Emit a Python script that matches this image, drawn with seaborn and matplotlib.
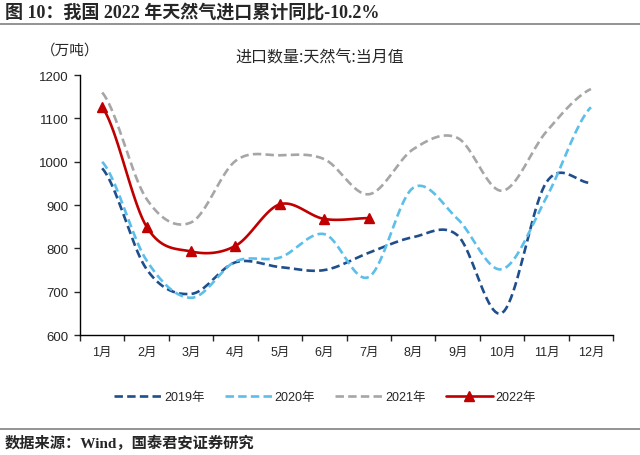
import numpy as np
import pandas as pd
import seaborn as sns
import matplotlib.pyplot as plt
from matplotlib.lines import Line2D

months = ['1月', '2月', '3月', '4月', '5月', '6月', '7月', '8月', '9月', '10月', '11月', '12月']
y2019 = [985, 752, 695, 768, 757, 750, 790, 826, 830, 651, 953, 951]
y2020 = [1000, 772, 686, 770, 779, 833, 734, 940, 868, 752, 918, 1126]
y2021 = [1160, 914, 860, 1002, 1015, 1006, 925, 1029, 1055, 933, 1070, 1168]
y2022 = [1126, 850, 793, 806, 902, 868, 870]

series = [('2019年', y2019, '#1f4e8c', (3.2, 1.6)),
          ('2020年', y2020, '#5bbfea', (3.2, 1.6)),
          ('2021年', y2021, '#a6a6a6', (3.2, 1.6)),
          ('2022年', y2022, '#c00000', '')]


def smooth(vals, n=20):
    '''Excel-style smoothed line (Catmull-Rom through the data points)'''
    p = np.asarray(vals, dtype=float)
    xs, ys = [], []
    for i in range(len(p) - 1):
        p0 = p[i - 1] if i > 0 else p[i]
        p3 = p[i + 2] if i + 2 < len(p) else p[i + 1]
        m1 = (p[i + 1] - p0) / 2
        m2 = (p3 - p[i]) / 2
        t = np.linspace(0, 1, n, endpoint=False)
        h00 = 2 * t**3 - 3 * t**2 + 1
        h10 = t**3 - 2 * t**2 + t
        h01 = -2 * t**3 + 3 * t**2
        h11 = t**3 - t**2
        xs.extend(i + t)
        ys.extend(h00 * p[i] + h10 * m1 + h01 * p[i + 1] + h11 * m2)
    xs.append(len(p) - 1)
    ys.append(p[-1])
    return np.array(xs), np.array(ys)


sns.set_style('ticks')
plt.rcParams['font.family'] = ['Liberation Sans', 'Noto Sans CJK SC']
plt.rcParams['axes.unicode_minus'] = False

fig = plt.figure(figsize=(6.4, 4.56), dpi=100)
ax = fig.add_axes([0.125, 0.263, 0.833, 0.57])

for name, vals, color, dash in series:
    sx, sy = smooth(vals)
    df = pd.DataFrame({'x': sx, 'y': sy})
    sns.lineplot(data=df, x='x', y='y', ax=ax, color=color, lw=1.9,
                 dashes=False, sort=False)
    if dash:
        ax.lines[-1].set_dashes(dash)
    else:
        pts = pd.DataFrame({'x': np.arange(len(vals)), 'y': vals})
        ax.plot(pts['x'], pts['y'], ls='none', marker='^', ms=7.5, color=color)

ax.set_xlim(-0.5, 11.5)
ax.set_ylim(600, 1200)
ax.set_yticks(range(600, 1201, 100))
ax.set_xticks(range(12))
ax.set_xticklabels(months)
ax.set_xticks(np.arange(-0.5, 12, 1), minor=True)
ax.tick_params(axis='x', which='major', length=0, pad=8, labelsize=9)
ax.tick_params(axis='x', which='minor', length=4, width=1, direction='out')
ax.tick_params(axis='y', length=4, width=1, labelsize=9.5, pad=4)
ax.set_xlabel('')
ax.set_ylabel('')
sns.despine(ax=ax)
for s in ['left', 'bottom']:
    ax.spines[s].set_color('black')
    ax.spines[s].set_linewidth(1)

handles = []
for name, vals, color, dash in series:
    if dash:
        h = Line2D([], [], color=color, lw=1.9, dashes=dash)
    else:
        h = Line2D([], [], color=color, lw=1.9, marker='^', ms=7)
    handles.append(h)
fig.legend(handles, [s[0] for s in series], loc='center', ncol=4,
           bbox_to_anchor=(0.508, 0.127), frameon=False, fontsize=9,
           handlelength=3.8, handletextpad=0.2, columnspacing=1.6)

fig.text(0.5, 0.873, '进口数量:天然气:当月值', ha='center', va='center',
         fontsize=11.5, family=['Noto Sans CJK SC'])
fig.text(0.11, 0.89, '（万吨）', ha='center', va='center', fontsize=10.5,
         family=['Noto Sans CJK SC'])

fig.text(0.008, 0.973, '图 10：我国 2022 年天然气进口累计同比-10.2%', ha='left',
         va='center', fontsize=13, fontweight='bold',
         family=['Liberation Serif', 'Noto Sans CJK SC'])
fig.add_artist(Line2D([0.0, 1.0], [0.945, 0.945], color='#808080', lw=1.2,
                      transform=fig.transFigure))
fig.add_artist(Line2D([0.0, 1.0], [0.057, 0.057], color='#808080', lw=1.2,
                      transform=fig.transFigure))
fig.text(0.008, 0.028, '数据来源：Wind，国泰君安证券研究', ha='left', va='center',
         fontsize=11, fontweight='bold',
         family=['Liberation Serif', 'Noto Sans CJK SC'])

fig.savefig('out.png', dpi=100)
